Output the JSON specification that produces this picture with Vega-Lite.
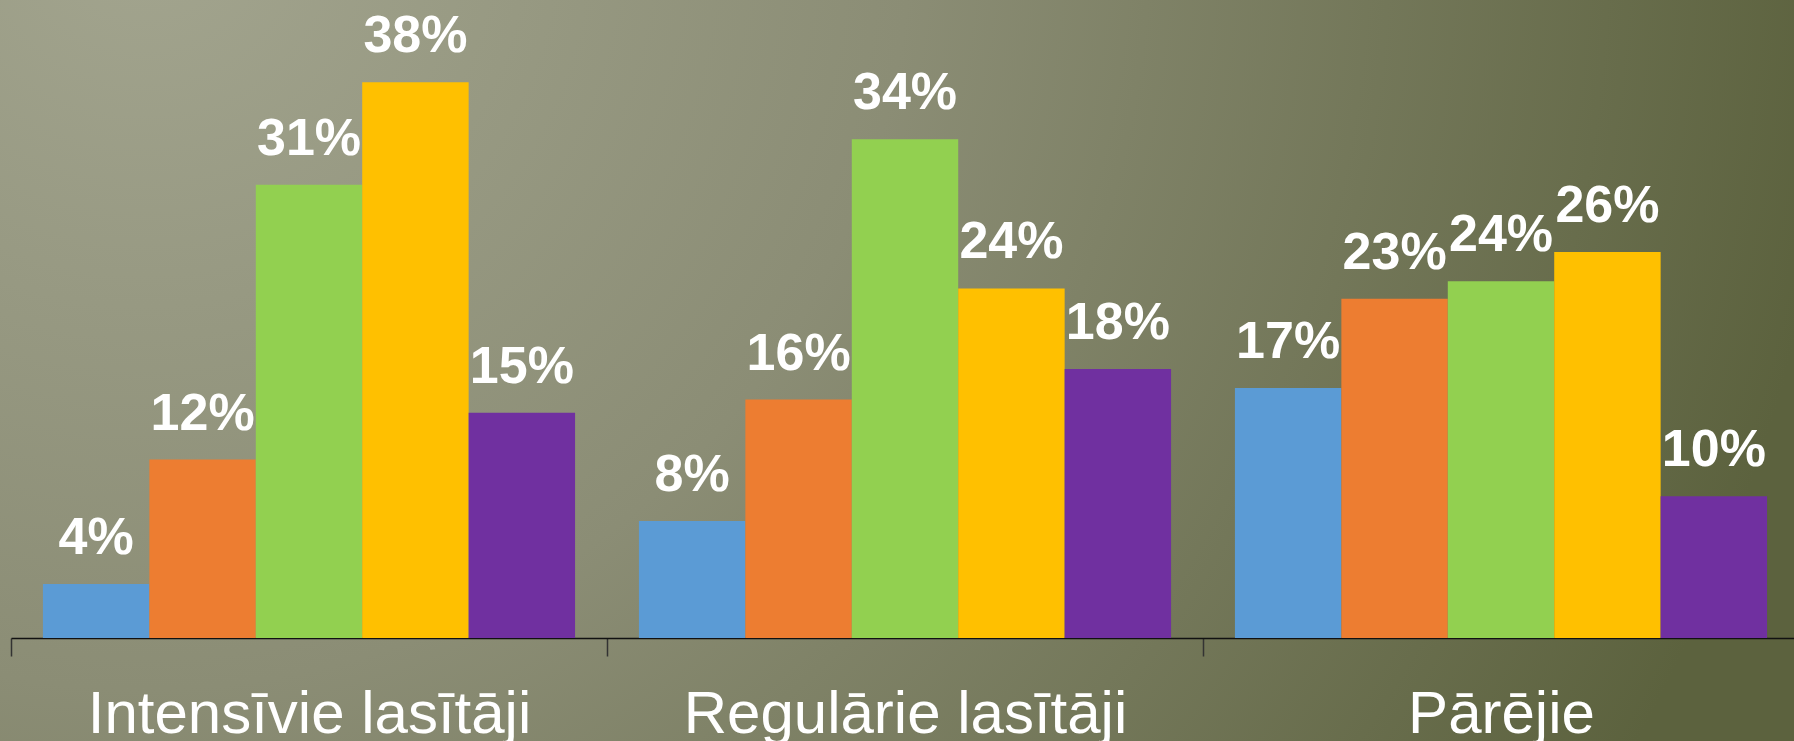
{
  "$schema": "https://vega.github.io/schema/vega-lite/v6.json",
  "width": 1794,
  "height": 741,
  "padding": 0,
  "autosize": {"type": "none"},
  "background": "#82856c",
  "config": {
    "view": {
      "stroke": null,
      "fill": {
        "gradient": "radial",
        "x1": 0.08, "y1": 0.25, "r1": 0,
        "x2": 0.08, "y2": 0.25, "r2": 0.95,
        "stops": [
          {"offset": 0, "color": "#a3a58f"},
          {"offset": 0.45, "color": "#8b8d75"},
          {"offset": 1, "color": "#5c623e"}
        ]
      }
    }
  },
  "data": {
    "values": [
      {"group": "Intensīvie lasītāji", "series": "Grupa 1", "value": 0.037},
      {"group": "Intensīvie lasītāji", "series": "Grupa 2", "value": 0.122},
      {"group": "Intensīvie lasītāji", "series": "Grupa 3", "value": 0.31},
      {"group": "Intensīvie lasītāji", "series": "Grupa 4", "value": 0.38},
      {"group": "Intensīvie lasītāji", "series": "Grupa 5", "value": 0.154},
      {"group": "Regulārie lasītāji", "series": "Grupa 1", "value": 0.08},
      {"group": "Regulārie lasītāji", "series": "Grupa 2", "value": 0.163},
      {"group": "Regulārie lasītāji", "series": "Grupa 3", "value": 0.341},
      {"group": "Regulārie lasītāji", "series": "Grupa 4", "value": 0.239},
      {"group": "Regulārie lasītāji", "series": "Grupa 5", "value": 0.184},
      {"group": "Pārējie", "series": "Grupa 1", "value": 0.171},
      {"group": "Pārējie", "series": "Grupa 2", "value": 0.232},
      {"group": "Pārējie", "series": "Grupa 3", "value": 0.244},
      {"group": "Pārējie", "series": "Grupa 4", "value": 0.264},
      {"group": "Pārējie", "series": "Grupa 5", "value": 0.097}
    ]
  },
  "encoding": {
    "x": {
      "field": "group",
      "type": "nominal",
      "sort": null,
      "scale": {"range": [11, 1799], "paddingInner": 0, "paddingOuter": 0},
      "axis": {
        "title": null,
        "orient": "bottom",
        "offset": -103,
        "domainColor": "#111111",
        "domainWidth": 1.5,
        "tickColor": "#333333",
        "tickWidth": 1.5,
        "tickSize": 18,
        "tickBand": "extent",
        "labelFont": "Liberation Sans",
        "labelFontSize": 60,
        "labelColor": "#ffffff",
        "labelBaseline": "alphabetic",
        "labelPadding": 76,
        "labelAngle": 0,
        "labelLimit": 0,
        "labelOverlap": false
      }
    },
    "xOffset": {
      "field": "series",
      "type": "nominal",
      "sort": null,
      "scale": {"paddingInner": 0, "paddingOuter": 0.3}
    },
    "y": {
      "field": "value",
      "type": "quantitative",
      "scale": {"domain": [0, 0.4], "range": [638, 53], "nice": false, "zero": true},
      "axis": null
    }
  },
  "layer": [
    {
      "mark": {"type": "bar"},
      "encoding": {
        "color": {
          "field": "series",
          "type": "nominal",
          "sort": null,
          "scale": {
            "domain": ["Grupa 1", "Grupa 2", "Grupa 3", "Grupa 4", "Grupa 5"],
            "range": ["#5b9bd5", "#ed7d31", "#92d050", "#ffc000", "#7030a0"]
          },
          "legend": null
        }
      }
    },
    {
      "mark": {
        "type": "text",
        "font": "Liberation Sans",
        "fontWeight": "bold",
        "fontSize": 52,
        "fill": "#ffffff",
        "baseline": "alphabetic",
        "align": "center",
        "dy": -30
      },
      "encoding": {
        "text": {"field": "value", "type": "quantitative", "format": ".0%"}
      }
    }
  ]
}
